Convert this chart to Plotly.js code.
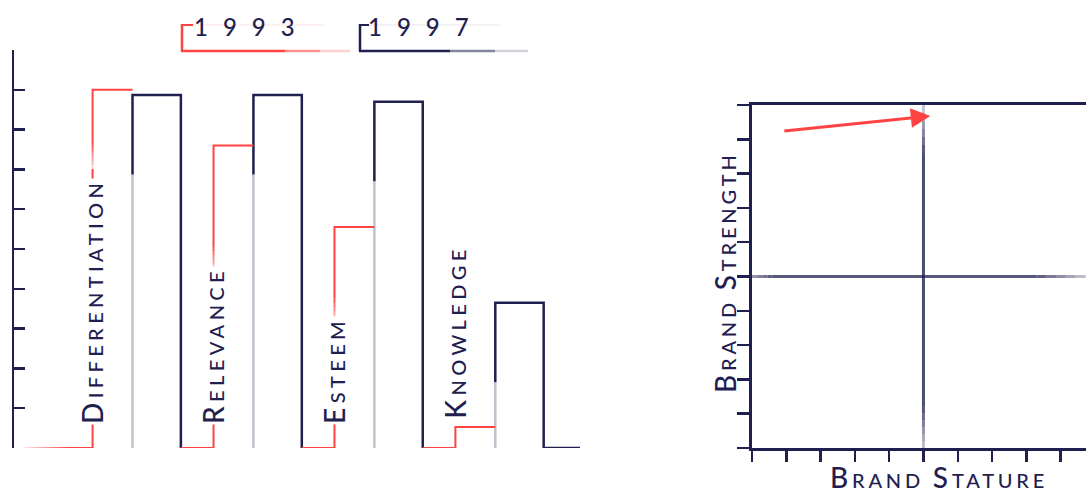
<!DOCTYPE html>
<html><head><meta charset="utf-8">
<script src="https://cdn.plot.ly/plotly-3.0.1.min.js"></script>
<style>html,body{margin:0;padding:0;background:#fff;overflow:hidden}#chart{width:1086px;height:493px}</style>
</head><body><div id="chart"></div>
<script>
// ---------- DATA ----------
const categories = ['Differentiation', 'Relevance', 'Esteem', 'Knowledge'];
const categoryLabels = ['DIFFERENTIATION', 'RELEVANCE', 'ESTEEM', 'KNOWLEDGE'];
const seriesNames = ['1993', '1997'];
const values1993 = [9.0, 7.6, 5.55, 0.53];
const values1997 = [8.87, 8.87, 8.7, 3.65];
const leftTicks = [0, 1, 2, 3, 4, 5, 6, 7, 8, 9, 10];
// right panel (Brand Strength vs Brand Stature)
const axisTitles = ['BRAND STATURE', 'BRAND STRENGTH'];
const statureTicks = [0, 1, 2, 3, 4, 5, 6, 7, 8, 9];
const strengthTicks = [0, 1, 2, 3, 4, 5, 6, 7, 8, 9, 10];
const quadrantSplit = [5, 5];          // [stature, strength]
const arrowStart = [0.9, 9.24];        // [stature, strength] 1993
const arrowEnd = [5.2, 9.68];          // [stature, strength] 1997

// ---------- STYLE ----------
const NAVY = '#1f2050';
const NAVY_LIGHT = 'rgba(31,32,80,0.28)';
const RED = '#ff4242';
const FONT = 'Lato, "Open Sans", sans-serif';
const WEIGHT = 500;
const W = 1086, H = 493;
const px = v => v / W, py = v => 1 - v / H;
const RISE = -0.33, BARW = 0.4, LEAD = -0.89, TAIL = 0.3, FADE = 2.0;
const LABEL_BASE = 0.58, LABEL_GAP = 0.18, LABEL_UNITS_PER_CHAR = 0.432, LABEL_FADE = 0.6;

function smallCaps(word, big, small, ls) {
  return `<span style="font-size:${big}px;letter-spacing:${ls}px">${word[0]}</span>` +
         `<span style="font-size:${small}px;letter-spacing:${ls}px">${word.slice(1)}</span>`;
}
function smallCapsPhrase(phrase, big, small, ls) {
  return phrase.split(' ').map(w => smallCaps(w, big, small, ls)).join(`<span style="font-size:${small}px;letter-spacing:${ls}px"> </span>`);
}
// gradient segments (list of traces) between two points on one axis pair
function gradient(x0, y0, x1, y1, rgb, a0, a1, width, xa, ya, n) {
  const out = [];
  for (let k = 0; k < n; k++) {
    const t0 = k / n, t1 = (k + 1) / n, a = a0 + (a1 - a0) * (k + 0.5) / n;
    out.push({x: [x0 + (x1 - x0) * t0, x0 + (x1 - x0) * t1], y: [y0 + (y1 - y0) * t0, y0 + (y1 - y0) * t1],
      xaxis: xa, yaxis: ya, mode: 'lines', line: {color: `rgba(${rgb},${a.toFixed(3)})`, width}, showlegend: false, hoverinfo: 'skip'});
  }
  return out;
}

// ---------- TRACES ----------
const redX = [], redY = [], blueX = [], blueY = [], fadeX = [], fadeY = [];
categories.forEach((c, i) => {
  const start = i === 0 ? LEAD : (i - 1) + BARW;
  redX.push(start, i + RISE, i + RISE, i, null);
  redY.push(0, 0, values1993[i], values1993[i], null);
  const v = values1997[i];
  const fadeTop = Math.max(0, v - FADE);
  blueX.push(i, i, i + BARW, i + BARW);
  blueY.push(fadeTop, v, v, 0);
  if (i === categories.length - 1) { blueX.push(i + BARW + TAIL); blueY.push(0); }
  blueX.push(null); blueY.push(null);
  fadeX.push(i, i, null); fadeY.push(0, fadeTop, null);
});

let traces = [
  {x: fadeX, y: fadeY, xaxis: 'x', yaxis: 'y', mode: 'lines', line: {color: NAVY_LIGHT, width: 2.5}, showlegend: false, hoverinfo: 'skip'},
  {x: blueX, y: blueY, xaxis: 'x', yaxis: 'y', mode: 'lines', name: seriesNames[1], line: {color: NAVY, width: 2.5}, showlegend: false},
  {x: redX, y: redY, xaxis: 'x', yaxis: 'y', mode: 'lines', name: seriesNames[0], line: {color: RED, width: 2}, showlegend: false}
];
// white veils that fade the red line at its start and just above each label
traces = traces.concat(gradient(LEAD, 0, LEAD + 0.35, 0, '255,255,255', 0.85, 0.05, 3, 'x', 'y', 7));
categoryLabels.forEach((lab, i) => {
  const top = LABEL_BASE + lab.length * LABEL_UNITS_PER_CHAR;
  if (values1993[i] > top + LABEL_FADE) {
    traces = traces.concat(gradient(i + RISE, top - 0.05, i + RISE, top + LABEL_FADE, '255,255,255', 0.85, 0.05, 3, 'x', 'y', 6));
  }
});
// quadrant dividers with faded ends
const q = quadrantSplit;
traces = traces.concat(
  gradient(q[0], 0, q[0], 1.2, '31,32,80', 0.25, 0.8, 3, 'x2', 'y2', 6),
  [{x: [q[0], q[0]], y: [1.2, 8.6], xaxis: 'x2', yaxis: 'y2', mode: 'lines', line: {color: 'rgba(31,32,80,0.8)', width: 3}, showlegend: false, hoverinfo: 'skip'}],
  gradient(q[0], 8.6, q[0], 10, '31,32,80', 0.8, 0.2, 3, 'x2', 'y2', 6),
  gradient(0, q[1], 0.6, q[1], '31,32,80', 0.45, 0.75, 3, 'x2', 'y2', 4),
  [{x: [0.6, 8.3], y: [q[1], q[1]], xaxis: 'x2', yaxis: 'y2', mode: 'lines', line: {color: 'rgba(31,32,80,0.75)', width: 3}, showlegend: false, hoverinfo: 'skip'}],
  gradient(8.3, q[1], 10, q[1], '31,32,80', 0.75, 0.15, 3, 'x2', 'y2', 6)
);

// ---------- ANNOTATIONS ----------
const annotations = [];
categoryLabels.forEach((lab, i) => {
  const v = values1993[i];
  annotations.push({
    xref: 'x', yref: 'y', x: i + RISE, y: v < LABEL_BASE + LABEL_GAP ? v + LABEL_GAP : LABEL_BASE,
    xanchor: 'center', yanchor: 'bottom', textangle: -90, showarrow: false,
    text: smallCaps(lab, 28, 20, 4.4), font: {family: FONT, color: NAVY, size: 20, weight: WEIGHT},
    bgcolor: '#ffffff', borderpad: 0
  });
});
// legend texts
annotations.push({xref: 'paper', yref: 'paper', x: px(192), y: py(27), xanchor: 'left', yanchor: 'middle', showarrow: false,
  text: `<span style="letter-spacing:15px">${seriesNames[0]}</span>`, font: {family: FONT, color: NAVY, size: 24, weight: WEIGHT}});
annotations.push({xref: 'paper', yref: 'paper', x: px(366), y: py(27), xanchor: 'left', yanchor: 'middle', showarrow: false,
  text: `<span style="letter-spacing:15px">${seriesNames[1]}</span>`, font: {family: FONT, color: NAVY, size: 24, weight: WEIGHT}});
// right panel titles
annotations.push({xref: 'paper', yref: 'paper', x: px(939), y: py(477), xanchor: 'center', yanchor: 'middle', showarrow: false,
  text: smallCapsPhrase(axisTitles[0], 28, 20, 3.8), font: {family: FONT, color: NAVY, size: 20, weight: WEIGHT}});
annotations.push({xref: 'paper', yref: 'paper', x: px(725), y: py(272), xanchor: 'center', yanchor: 'middle', showarrow: false, textangle: -90,
  text: smallCapsPhrase(axisTitles[1], 28, 20, 3.8), font: {family: FONT, color: NAVY, size: 20, weight: WEIGHT}});
// arrow 1993 -> 1997
annotations.push({xref: 'x2', yref: 'y2', axref: 'x2', ayref: 'y2', x: arrowEnd[0], y: arrowEnd[1], ax: arrowStart[0], ay: arrowStart[1],
  text: '', showarrow: true, arrowhead: 2, arrowsize: 1.3, arrowwidth: 3, arrowcolor: RED, standoff: 0});

// ---------- SHAPES (legend brackets) ----------
const line = (x0, y0, x1, y1, color, w) => ({type: 'line', xref: 'paper', yref: 'paper', x0: px(x0), y0: py(y0), x1: px(x1), y1: py(y1), line: {color, width: w}});
const shapes = [
  line(182, 24, 182, 51, RED, 2.5), line(181, 25, 193, 25, RED, 2), line(193, 25, 325, 25, 'rgba(255,66,66,0.1)', 1.5),
  line(181, 51, 285, 51, RED, 2.5), line(285, 51, 320, 51, 'rgba(255,66,66,0.6)', 2.5), line(320, 51, 350, 51, 'rgba(255,66,66,0.25)', 2.5),
  line(360, 24, 360, 51, NAVY, 2.5), line(359, 25, 369, 25, NAVY, 2), line(369, 25, 500, 25, 'rgba(31,32,80,0.07)', 1.5),
  line(359, 51, 450, 51, NAVY, 2.5), line(450, 51, 495, 51, 'rgba(31,32,80,0.55)', 2.5), line(495, 51, 528, 51, 'rgba(31,32,80,0.2)', 2.5)
];

// ---------- LAYOUT ----------
const layout = {
  width: W, height: H, margin: {l: 0, r: 0, t: 0, b: 0}, paper_bgcolor: '#fff', plot_bgcolor: 'rgba(0,0,0,0)',
  showlegend: false, font: {family: FONT, color: NAVY},
  xaxis: {domain: [px(14), px(586)], range: [-0.98, 3.75], visible: false, fixedrange: true},
  yaxis: {domain: [45 / H, 443 / H], range: [0, 10], tickvals: leftTicks, ticks: 'inside', ticklen: 11, tickwidth: 2.5, tickcolor: NAVY,
          showline: true, linewidth: 2.5, linecolor: NAVY, showticklabels: false, showgrid: false, zeroline: false, anchor: 'x', fixedrange: true},
  xaxis2: {domain: [px(752), 1], range: [0, 9.74], tickvals: statureTicks, ticks: 'outside', ticklen: 11, tickwidth: 2.5, tickcolor: NAVY,
           showline: true, mirror: true, linewidth: 3, linecolor: NAVY, showticklabels: false, showgrid: false, zeroline: false, anchor: 'y2', fixedrange: true},
  yaxis2: {domain: [45 / H, 388 / H], range: [0, 10], tickvals: strengthTicks, ticks: 'outside', ticklen: 12, tickwidth: 2.5, tickcolor: NAVY,
           showline: true, linewidth: 3, linecolor: NAVY, showticklabels: false, showgrid: false, zeroline: false, anchor: 'x2', fixedrange: true},
  annotations, shapes
};

Plotly.newPlot('chart', traces, layout, {displayModeBar: false, staticPlot: true});
</script>
</body></html>
